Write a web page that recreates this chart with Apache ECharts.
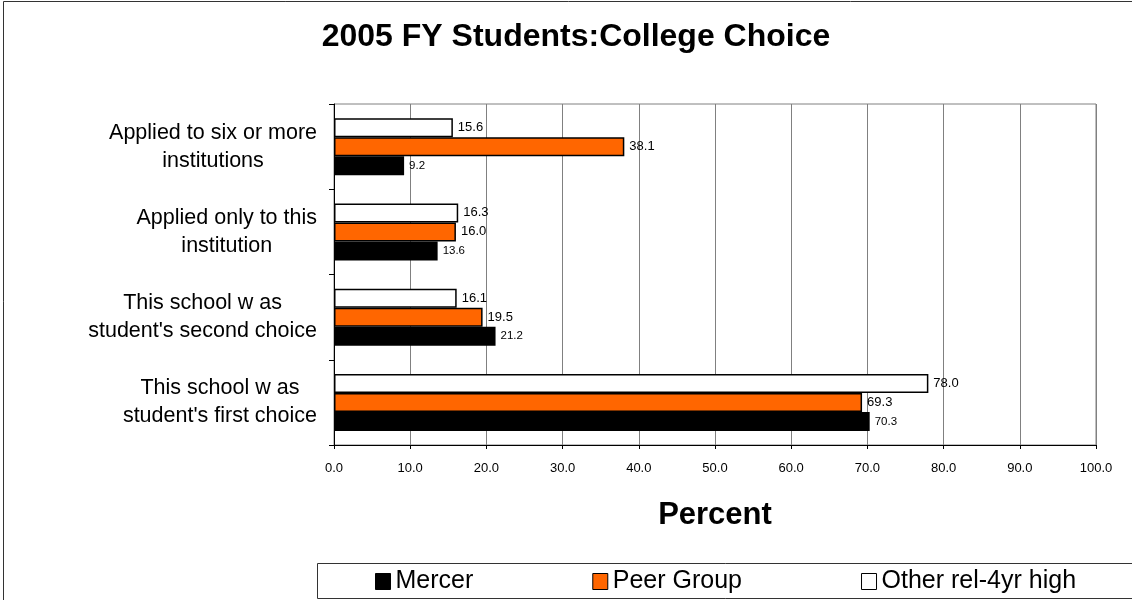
<!DOCTYPE html>
<html>
<head>
<meta charset="utf-8">
<style>
html,body{margin:0;padding:0;background:#fff;}
#chart{width:1132px;height:600px;}
</style>
<script src="https://cdn.jsdelivr.net/npm/echarts@6/dist/echarts.min.js"></script>
</head>
<body>
<div id="chart"></div>
<script>
// Categories listed bottom to top (ECharts category y axis starts at bottom)
var categories = [
  "This school w as\nstudent's first choice",
  "This school w as\nstudent's second choice",
  "Applied only to this\ninstitution",
  "Applied to six or more\ninstitutions"
];
var mercer = [70.3, 21.2, 13.6, 9.2];
var peerGroup = [69.3, 19.5, 16.0, 38.1];
var otherRel = [78.0, 16.1, 16.3, 15.6];
var legendNames = ['Mercer', 'Peer Group', 'Other rel-4yr high'];
var xTicks = [0, 10, 20, 30, 40, 50, 60, 70, 80, 90, 100];

var FONT = "'Liberation Sans', Arial, sans-serif";
var chart = echarts.init(document.getElementById('chart'), null, {renderer: 'canvas'});

function barSeries(name, data, color, labelSize, border) {
  return {
    name: name,
    type: 'bar',
    data: data,
    barWidth: 19,
    barGap: '0%',
    itemStyle: {color: color, borderColor: '#000', borderWidth: border},
    label: {
      show: true,
      position: 'right',
      distance: 5,
      color: '#000',
      fontFamily: FONT,
      fontSize: labelSize,
      formatter: function (p) { return p.value.toFixed(1); }
    },
    emphasis: {disabled: true},
    animation: false
  };
}

var option = {
  animation: false,
  backgroundColor: '#fff',
  title: {
    text: '2005 FY Students:College Choice',
    left: 576,
    textAlign: 'center',
    top: 21,
    padding: 0,
    textStyle: {fontFamily: FONT, fontSize: 32, fontWeight: 'bold', color: '#000'}
  },
  legend: {
    data: legendNames,
    left: 375,
    top: 569,
    padding: 0,
    itemGap: 119,
    itemWidth: 15,
    itemHeight: 16,
    icon: 'rect',
    textStyle: {fontFamily: FONT, fontSize: 25, color: '#000'},
    itemStyle: {borderColor: '#000', borderWidth: 1}
  },
  grid: {
    left: 334, right: 36, top: 104, bottom: 155,
    show: true, borderColor: '#808080', borderWidth: 1, backgroundColor: 'transparent',
    containLabel: false
  },
  xAxis: {
    type: 'value',
    min: xTicks[0],
    max: xTicks[xTicks.length - 1],
    interval: xTicks[1] - xTicks[0],
    name: 'Percent',
    nameLocation: 'middle',
    nameGap: 55,
    nameTextStyle: {fontFamily: FONT, fontSize: 31, fontWeight: 'bold', color: '#000'},
    axisLine: {show: true, lineStyle: {color: '#000', width: 1}},
    axisTick: {show: true, length: 4, lineStyle: {color: '#000'}},
    axisLabel: {
      margin: 17, color: '#000', fontFamily: FONT, fontSize: 13,
      formatter: function (v) { return v.toFixed(1); }
    },
    splitLine: {show: true, lineStyle: {color: '#808080', width: 1}}
  },
  yAxis: {
    type: 'category',
    data: categories,
    axisLine: {show: true, lineStyle: {color: '#000', width: 1}},
    axisTick: {show: true, length: 5, lineStyle: {color: '#000'}},
    axisLabel: {
      margin: 17,
      formatter: function (v) {
        return v.split('\n').map(function (s) { return '{c|' + s + '}'; }).join('\n');
      },
      rich: {
        c: {align: 'center', fontFamily: FONT, fontSize: 21.5, color: '#000', lineHeight: 28}
      }
    },
    splitLine: {show: false}
  },
  // series 0 is drawn at the top of each category band
  series: [
    barSeries(legendNames[2], otherRel, '#FFFFFF', 13, 1.5),
    barSeries(legendNames[1], peerGroup, '#FF6600', 13, 1.5),
    barSeries(legendNames[0], mercer, '#000000', 11.5, 0)
  ],
  graphic: [
    {type: 'rect', silent: true, shape: {x: 3.5, y: 1.5, width: 1200, height: 700},
      style: {fill: 'none', stroke: '#333', lineWidth: 1}, z: -1},
    {type: 'rect', silent: true, shape: {x: 317.5, y: 563.5, width: 900, height: 35},
      style: {fill: 'none', stroke: '#333', lineWidth: 1}, z: -1}
  ]
};
chart.setOption(option);
</script>
</body>
</html>
